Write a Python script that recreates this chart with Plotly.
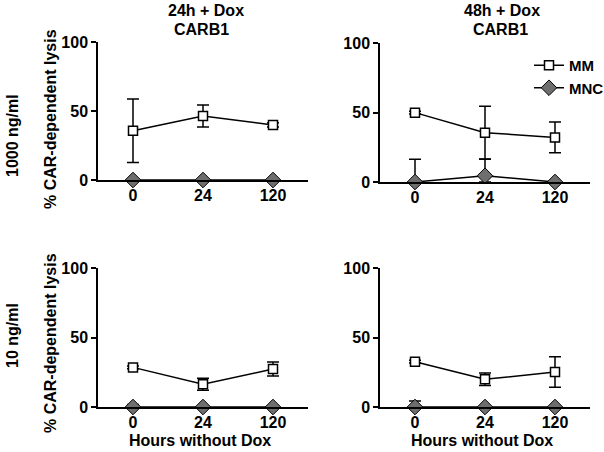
import plotly.graph_objects as go

hours = ["0", "24", "120"]
y_ticks = [0, 50, 100]

# Panel values (mean, error)
tl_mm = [35.7, 46.4, 39.9]
tl_mm_err = [23.0, 8.0, 1.5]
tl_mnc = [0, 0, 0]
tl_mnc_err = [0, 0, 0]

tr_mm = [49.9, 35.5, 32.1]
tr_mm_err = [1.0, 19.0, 11.0]
tr_mnc = [0, 4.5, 0]
tr_mnc_err = [16.3, 11.8, 0]

bl_mm = [28.5, 16.3, 27.3]
bl_mm_err = [1.0, 4.3, 5.0]
bl_mnc = [0, 0, 0]
bl_mnc_err = [1.8, 0, 0]

br_mm = [32.6, 19.9, 25.2]
br_mm_err = [1.0, 4.5, 11.0]
br_mnc = [0, 0, 0]
br_mnc_err = [4.3, 0, 0]

col_titles = ["24h + Dox", "48h + Dox"]
col_subtitle = "CARB1"
row_titles = ["1000 ng/ml", "10 ng/ml"]
ytitle = "% CAR-dependent lysis"
xtitle = "Hours without Dox"

W, H = 604, 452
FONT = "Liberation Sans, Arial, sans-serif"

def px_x(p):
    return p / W

def px_y(p):
    return 1 - p / H

panels = [
    # (mm, mm_err, mnc, mnc_err, xdom px, ydom px (bottom, top))
    (tl_mm, tl_mm_err, tl_mnc, tl_mnc_err, (98, 308), (180, 42)),
    (tr_mm, tr_mm_err, tr_mnc, tr_mnc_err, (380, 590), (182, 43)),
    (bl_mm, bl_mm_err, bl_mnc, bl_mnc_err, (98, 308), (407, 268)),
    (br_mm, br_mm_err, br_mnc, br_mnc_err, (380, 590), (407, 268)),
]

fig = go.Figure()
layout = {}
for i, (mm, mme, mnc, mnce, xd, yd) in enumerate(panels):
    n = "" if i == 0 else str(i + 1)
    xa, ya = "x" + n, "y" + n
    show = (i == 1)
    fig.add_trace(go.Scatter(
        x=hours, y=mm, xaxis=xa, yaxis=ya, name="MM", showlegend=show,
        mode="lines+markers", cliponaxis=False,
        line=dict(color="black", width=1.5),
        marker=dict(symbol="square", size=9, color="white",
                    line=dict(color="black", width=1.5)),
        error_y=dict(type="data", array=mme,
                     arrayminus=[min(e, v) for e, v in zip(mme, mm)],
                     color="black", thickness=1.5, width=6),
    ))
    fig.add_trace(go.Scatter(
        x=hours, y=mnc, xaxis=xa, yaxis=ya, name="MNC", showlegend=show,
        mode="lines+markers", cliponaxis=False,
        line=dict(color="black", width=1.5),
        marker=dict(symbol="diamond", size=12, color="#6e6e6e",
                    line=dict(color="black", width=1)),
        error_y=dict(type="data", array=mnce,
                     arrayminus=[min(e, v) for e, v in zip(mnce, mnc)],
                     color="black", thickness=1.5, width=6),
    ))
    layout["xaxis" + n] = dict(
        domain=[px_x(xd[0]), px_x(xd[1])], anchor=ya, type="category",
        range=[-0.5, 2.5], showline=True, linecolor="black", linewidth=1.5,
        showgrid=False, zeroline=False, ticks="", automargin=False,
        tickfont=dict(family=FONT, size=16, weight="bold", color="black"),
        fixedrange=True,
    )
    layout["yaxis" + n] = dict(
        domain=[px_y(yd[0]), px_y(yd[1])], anchor=xa,
        range=[0, 100], tickvals=y_ticks, showline=True, linecolor="black",
        linewidth=1.5, showgrid=False, zeroline=False, ticks="outside",
        ticklen=5, tickwidth=1.5, tickcolor="black", automargin=False,
        tickfont=dict(family=FONT, size=16, weight="bold", color="black"),
        fixedrange=True,
    )

ann = []
def add(text, x, y, size=16, angle=0):
    ann.append(dict(text="<b>" + text + "</b>", x=px_x(x), y=px_y(y),
                    xref="paper", yref="paper", showarrow=False,
                    xanchor="center", yanchor="middle", textangle=angle,
                    borderpad=0,
                    font=dict(family=FONT, size=size, color="black")))

add(col_titles[0], 206, 11)
add(col_subtitle, 201, 29)
add(col_titles[1], 502, 11)
add(col_subtitle, 500, 29)
add(row_titles[0], 12, 136, angle=-90)
add(row_titles[1], 12, 336, angle=-90)
add(ytitle, 50, 119, size=16, angle=-90)
add(ytitle, 50, 343, size=16, angle=-90)
add(xtitle, 200, 440)
add(xtitle, 482, 440)

fig.update_layout(
    width=W, height=H, margin=dict(l=0, r=0, t=0, b=0, autoexpand=False),
    paper_bgcolor="white", plot_bgcolor="white",
    annotations=ann,
    showlegend=True,
    legend=dict(x=px_x(529), y=px_y(49), xanchor="left", yanchor="top",
                bgcolor="rgba(0,0,0,0)", tracegroupgap=0,
                font=dict(family=FONT, size=15, weight="bold", color="black"),
                itemwidth=30),
    **layout,
)

fig.write_html("out.html", config={"displayModeBar": False},
               post_script="document.body.style.margin='0';document.body.style.padding='0';")
